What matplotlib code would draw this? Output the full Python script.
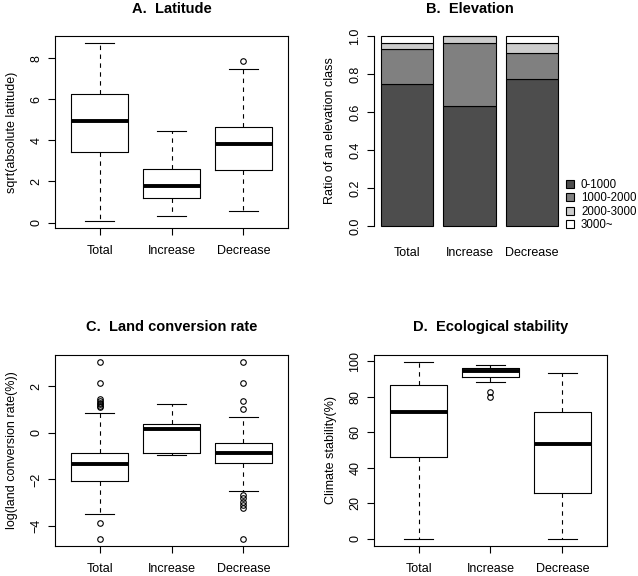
import matplotlib
matplotlib.use("Agg")
import matplotlib.pyplot as plt
import numpy as np

plt.rcParams['font.family'] = ['Liberation Sans', 'DejaVu Sans']

groups = ["Total", "Increase", "Decrease"]

# A. Latitude: (whislo, q1, med, q3, whishi, fliers)
lat_stats = [
    (0.08, 3.44, 4.94, 6.27, 8.73, []),
    (0.31, 1.19, 1.76, 2.61, 4.46, []),
    (0.55, 2.57, 3.80, 4.63, 7.48, [7.87]),
]

# B. Elevation class ratios
elev_classes = ["0-1000", "1000-2000", "2000-3000", "3000~"]
elev_colors = ["#4d4d4d", "#808080", "#cccccc", "#ffffff"]
elev_ratio = {
    "0-1000":    [0.749, 0.632, 0.772],
    "1000-2000": [0.181, 0.333, 0.140],
    "2000-3000": [0.035, 0.035, 0.053],
    "3000~":     [0.035, 0.000, 0.035],
}

# C. Land conversion rate
land_stats = [
    (-3.47, -2.06, -1.32, -0.86, 0.86,
     [3.05, 2.15, 1.45, 1.38, 1.31, 1.24, 1.17, 1.10, -3.87, -4.56]),
    (-0.96, -0.85, 0.16, 0.37, 1.26, []),
    (-2.51, -1.29, -0.85, -0.42, 0.69,
     [3.05, 2.15, 1.36, 1.03, -2.65, -2.80, -2.95, -3.10, -3.25, -4.56]),
]

# D. Ecological stability
eco_stats = [
    (0.0, 46.3, 71.3, 86.5, 99.6, []),
    (88.2, 91.0, 94.6, 96.4, 97.9, [82.9, 79.7]),
    (0.0, 26.1, 53.7, 71.3, 93.4, []),
]

W, H = 638, 576
fig = plt.figure(figsize=(W / 100, H / 100), dpi=100)


def px_axes(x0, y0, x1, y1):
    return fig.add_axes([x0 / W, 1 - y1 / H, (x1 - x0) / W, (y1 - y0) / H])


def title(ax, text, ypx):
    pos = ax.get_position()
    fig.text(pos.x0 + pos.width / 2, 1 - ypx / H, text, ha="center",
             va="center", fontsize=10.5, fontweight="bold")


def boxpanel(ax, stats, yticks, ylabel, label_x):
    bstats = []
    allv = []
    for lo, q1, med, q3, hi, fl in stats:
        bstats.append(dict(whislo=lo, q1=q1, med=med, q3=q3, whishi=hi,
                           fliers=fl))
        allv += [lo, hi] + list(fl)
    ax.bxp(bstats, positions=[1, 2, 3], widths=0.8, capwidths=0.4,
           boxprops=dict(color="black", lw=0.8),
           whiskerprops=dict(color="black", lw=0.8, linestyle=(0, (4, 4))),
           capprops=dict(color="black", lw=0.8),
           medianprops=dict(color="black", lw=2.8, solid_capstyle="butt"),
           flierprops=dict(marker="o", mfc="none", mec="black", ms=4,
                           mew=0.8))
    lo, hi = min(allv), max(allv)
    pad = (hi - lo) * 0.04
    ax.set_ylim(lo - pad, hi + pad)
    ax.set_xlim(0.38, 3.62)
    ax.set_xticks([1, 2, 3])
    ax.set_xticklabels(groups)
    ax.set_yticks(yticks)
    for s in ax.spines.values():
        s.set_linewidth(0.8)
    ax.tick_params(axis="x", length=5, width=0.8, pad=7, labelsize=9)
    ax.tick_params(axis="y", length=5, width=0.8, pad=4, labelsize=9)
    for lab in ax.get_yticklabels():
        lab.set_rotation(90)
        lab.set_va("center")
    ax.set_ylabel(ylabel, fontsize=9)
    ax.yaxis.set_label_coords(label_x, 0.5)


axA = px_axes(55, 36, 288, 228)
boxpanel(axA, lat_stats, [0, 2, 4, 6, 8], "sqrt(absolute latitude)", -0.16)
title(axA, "A.  Latitude", 8.7)

axC = px_axes(55, 355, 288, 546)
boxpanel(axC, land_stats, [-4, -2, 0, 2], "log(land conversion rate(%))",
         -0.16)
title(axC, "C.  Land conversion rate", 326.7)

axD = px_axes(374, 355, 607, 546)
boxpanel(axD, eco_stats, [0, 20, 40, 60, 80, 100], "Climate stability(%)",
         -0.16)
title(axD, "D.  Ecological stability", 326.7)

# B. stacked bars
axB = px_axes(374, 28.4, 565, 233.6)
xpos = np.array([0.7, 1.9, 3.1])
bottom = np.zeros(3)
handles = []
for cls, col in zip(elev_classes, elev_colors):
    vals = np.array(elev_ratio[cls])
    b = axB.bar(xpos, vals, width=1.0, bottom=bottom, color=col,
                edgecolor="black", linewidth=0.8)
    handles.append(b)
    bottom += vals
axB.set_xlim(0.064, 3.736)
axB.set_ylim(-0.04, 1.04)
for side in ["top", "right", "bottom"]:
    axB.spines[side].set_visible(False)
axB.spines["left"].set_bounds(0, 1)
axB.spines["left"].set_linewidth(0.8)
axB.set_yticks([0, 0.2, 0.4, 0.6, 0.8, 1.0])
axB.set_yticklabels(["0.0", "0.2", "0.4", "0.6", "0.8", "1.0"])
axB.set_xticks(xpos)
axB.set_xticklabels(groups)
axB.tick_params(axis="x", length=0, pad=10, labelsize=9)
axB.tick_params(axis="y", length=5, width=0.8, pad=4, labelsize=9)
for lab in axB.get_yticklabels():
    lab.set_rotation(90)
    lab.set_va("center")
axB.set_ylabel("Ratio of an elevation class", fontsize=9)
axB.yaxis.set_label_coords(-0.20, 0.5)
axB.legend(handles, elev_classes, loc="lower left",
           bbox_to_anchor=(566 / W, 1 - 231 / H), bbox_transform=fig.transFigure,
           frameon=False, fontsize=8.3, handlelength=0.7, handleheight=0.7,
           handletextpad=0.6, labelspacing=0.12, borderpad=0, borderaxespad=0)
title(axB, "B.  Elevation", 8.7)

fig.savefig("out.png", dpi=100)
